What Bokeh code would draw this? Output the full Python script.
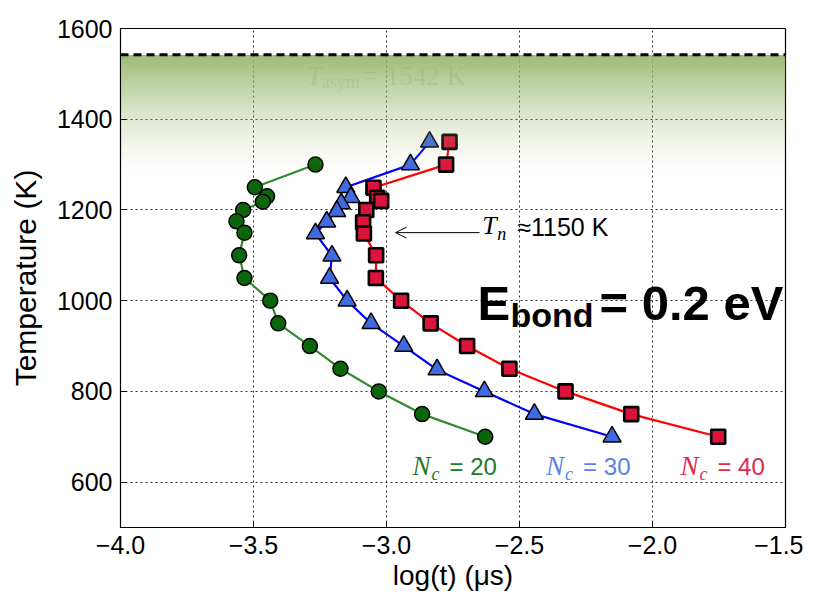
import numpy as np
from bokeh.plotting import figure
from bokeh.models import Range1d, FixedTicker, Arrow, OpenHead, Span
from bokeh.core.properties import value
from bokeh.embed import file_html
from bokeh.resources import INLINE

# ---------------- data ----------------
x_ticks = [-4.0, -3.5, -3.0, -2.5, -2.0, -1.5]
x_tick_labels = ["\u22124.0", "\u22123.5", "\u22123.0", "\u22122.5", "\u22122.0", "\u22121.5"]
y_ticks = [600, 800, 1000, 1200, 1400, 1600]

# N_c = 20 (green circles)
logt_20 = [-3.267, -3.495, -3.449, -3.465, -3.539, -3.564, -3.534, -3.554, -3.534,
           -3.437, -3.407, -3.288, -3.173, -3.029, -2.866, -2.629]
temp_20 = [1300, 1250, 1230, 1218, 1200, 1175, 1150, 1100, 1050,
           1000, 950, 900, 850, 800, 750, 700]

# N_c = 30 (blue triangles)
logt_30 = [-2.838, -2.910, -3.153, -3.134, -3.170, -3.187, -3.225, -3.267, -3.205,
           -3.214, -3.148, -3.058, -2.935, -2.810, -2.632, -2.444, -2.152]
temp_30 = [1350, 1300, 1250, 1228, 1214, 1197, 1174, 1148, 1099,
           1050, 1000, 950, 900, 848, 800, 750, 700]

# N_c = 40 (red squares)
logt_40 = [-2.763, -2.776, -3.049, -3.035, -3.020, -3.076, -3.088, -3.085, -3.039,
           -3.040, -2.945, -2.834, -2.697, -2.538, -2.327, -2.080, -1.753]
temp_40 = [1350, 1300, 1249, 1227, 1220, 1200, 1173, 1148, 1100,
           1050, 1000, 950, 900, 850, 800, 750, 700]

T_ASYM = 1542
T_N = 1150
FADE_DEPTH = 275

SANS = "Liberation Sans"
SERIF = "Liberation Serif"

# ---------------- figure ----------------
p = figure(width=803, height=597,
           x_range=Range1d(x_ticks[0], x_ticks[-1]), y_range=Range1d(500, 1600),
           output_backend="svg", toolbar_location=None,
           min_border_left=120, min_border_right=18,
           min_border_top=28, min_border_bottom=70)
p.background_fill_color = "white"
p.border_fill_color = "white"
p.outline_line_color = "black"
p.outline_line_width = 1.2

p.xaxis.ticker = FixedTicker(ticks=x_ticks)
p.xaxis.major_label_overrides = {t: l for t, l in zip(x_ticks, x_tick_labels)}
p.yaxis.ticker = FixedTicker(ticks=y_ticks)
for ax in (p.xaxis, p.yaxis):
    ax.major_label_text_font = SANS
    ax.major_label_text_font_size = "25px"
    ax.major_label_text_color = "black"
    ax.axis_label_text_font = SANS
    ax.axis_label_text_font_style = "normal"
    ax.axis_label_text_color = "black"
    ax.major_tick_in = 6
    ax.major_tick_out = 0
    ax.minor_tick_line_color = None
    ax.axis_line_color = "black"
p.xaxis.axis_label = "log(t) (\u03bcs)"
p.yaxis.axis_label = "Temperature (K)"
p.xaxis.axis_label_text_font_size = "28px"
p.yaxis.axis_label_text_font_size = "30px"
p.xaxis.major_label_standoff = 8
p.yaxis.major_label_standoff = 8
p.xaxis.axis_label_standoff = 3
p.yaxis.axis_label_standoff = 12

p.xgrid.ticker = FixedTicker(ticks=x_ticks)
p.ygrid.ticker = FixedTicker(ticks=y_ticks)
for g in (p.xgrid, p.ygrid):
    g.grid_line_color = "black"
    g.grid_line_alpha = 0.8
    g.grid_line_dash = "2 3"
    g.grid_line_width = 1

# ---------------- series ----------------
p.line(logt_20, temp_20, line_color="#2e8b2e", line_width=2.2)
p.line(logt_30, temp_30, line_color="#0000ff", line_width=2.2)
p.line(logt_40, temp_40, line_color="#ff0000", line_width=2.2)

p.scatter(logt_20, temp_20, marker="circle", size=15, fill_color="#0b650b",
          line_color="black", line_width=1.5)
p.scatter(logt_30, temp_30, marker="triangle", size=18, fill_color="#4169e1",
          line_color="black", line_width=1.5)
p.scatter(logt_40, temp_40, marker="square", size=14, fill_color="#dc143c",
          line_color="black", line_width=2.6)


def label(x, y, txt, size, font=SANS, style="normal", color="black", alpha=1.0, dx=0):
    p.text(x=[x], y=[y], text=[txt], x_offset=dx, text_font=value(font),
           text_font_style=style, text_font_size=size, text_color=color,
           text_alpha=alpha, text_baseline="middle", text_align="left")


# faint T_asym label (under the gradient)
TA_COL = "#5f7f3a"
label(-3.30, 1495, "T", "27px", SERIF, "italic", TA_COL, 0.22)
label(-3.30, 1481, "asym", "18px", SERIF, "normal", TA_COL, 0.22, dx=15)
label(-3.30, 1496, "=", "27px", SERIF, "normal", TA_COL, 0.22, dx=55)
label(-3.30, 1496, "1542 K", "27px", SERIF, "normal", TA_COL, 0.22, dx=79)

# green gradient below T_asym (one stretched RGBA image)
n_rows = 300
row_t = np.linspace(T_ASYM - FADE_DEPTH, T_ASYM, n_rows)
frac = (T_ASYM - row_t) / FADE_DEPTH
alpha = 0.9 * (1 - frac) ** 1.5
img = np.zeros((n_rows, 2), dtype=np.uint32)
view = img.view(dtype=np.uint8).reshape((n_rows, 2, 4))
view[..., 0] = 146
view[..., 1] = 178
view[..., 2] = 100
view[..., 3] = (alpha * 255).astype(np.uint8)[:, None]
p.image_rgba(image=[img], x=x_ticks[0], y=T_ASYM - FADE_DEPTH,
             dw=x_ticks[-1] - x_ticks[0], dh=FADE_DEPTH)

p.add_layout(Span(location=T_ASYM, dimension="width", line_color="black",
                  line_width=3, line_dash="8 5"))

# T_n annotation
p.add_layout(Arrow(end=OpenHead(size=11, line_width=1, line_color="black"),
                   x_start=-2.650, y_start=T_N, x_end=-2.966, y_end=T_N,
                   line_color="black", line_width=1))
label(-2.640, 1165, "T", "26px", SERIF, "italic")
label(-2.640, 1146, "n", "18px", SERIF, "italic", dx=15)
label(-2.640, 1162, "\u22481150 K", "25px", SANS, dx=35)

# E_bond label
label(-2.658, 995, "E", "49px", SANS, "bold")
label(-2.658, 969, "bond", "34px", SANS, "bold", dx=33)
label(-2.658, 995, "= 0.2 eV", "49px", SANS, "bold", dx=122)

# N_c labels
nc_labels = [("= 20", -2.902, "#1f7a1f"), ("= 30", -2.400, "#5b7fe8"), ("= 40", -1.895, "#e0284f")]
for lab, xa, col in nc_labels:
    label(xa, 635, "N", "27px", SERIF, "italic", col)
    label(xa, 617, "c", "18px", SERIF, "italic", col, dx=19)
    label(xa, 635, lab, "24px", SANS, "normal", col, dx=37)

open("out.html", "w").write(file_html(p, INLINE))
